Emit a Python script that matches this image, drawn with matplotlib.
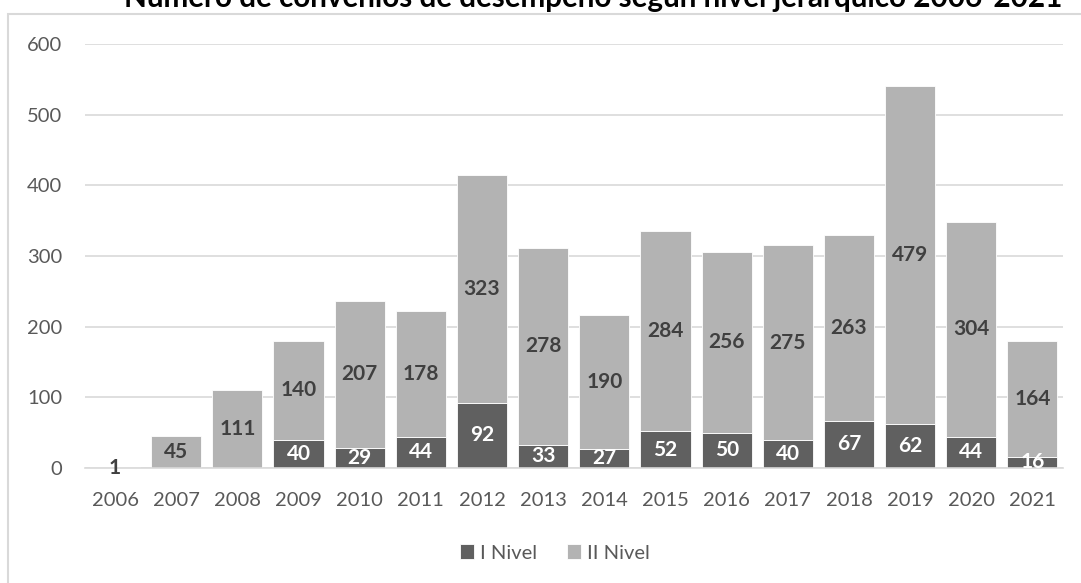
import numpy as np
import matplotlib.pyplot as plt
from matplotlib.patches import Rectangle

years = ['2006', '2007', '2008', '2009', '2010', '2011', '2012', '2013',
         '2014', '2015', '2016', '2017', '2018', '2019', '2020', '2021']
nivel_1 = [0, 0, 0, 40, 29, 44, 92, 33, 27, 52, 50, 40, 67, 62, 44, 16]
nivel_2 = [1, 45, 111, 140, 207, 178, 323, 278, 190, 284, 256, 275, 263, 479, 304, 164]

dark = '#606060'
light = '#b3b3b3'
grid_col = '#d9d9d9'
text_col = '#595959'

plt.rcParams['font.family'] = ['Lato', 'DejaVu Sans']

W, H = 1081, 583
fig = plt.figure(figsize=(W / 100, H / 100), dpi=100)
ax = fig.add_axes([84.5 / W, 1 - 468 / H, 978.5 / W, 424 / H])

# chart frame
fig.patches.append(Rectangle((8 / W, -0.1), 1.2, 1 - 14 / H + 0.1,
                             transform=fig.transFigure, fill=False,
                             edgecolor=grid_col, linewidth=1.5))

x = np.arange(len(years))
b1 = ax.bar(x, nivel_1, width=0.82, color=dark, edgecolor='white',
            linewidth=0.6, label='I Nivel', zorder=2)
b2 = ax.bar(x, nivel_2, width=0.82, bottom=nivel_1, color=light,
            edgecolor='white', linewidth=0.6, label='II Nivel', zorder=2)

ax.bar_label(b1, labels=[str(v) if v else '' for v in nivel_1],
             label_type='center', color='white', fontsize=15,
             fontweight='bold', clip_on=True)
ax.bar_label(b2, labels=[str(v) for v in nivel_2], label_type='center',
             color='#404040', fontsize=15, fontweight='bold')

ax.set_xlim(-0.5, len(years) - 0.5)
ax.set_ylim(0, 600)
ax.set_yticks(range(0, 601, 100))
ax.set_xticks(x)
ax.set_xticklabels(years)
ax.yaxis.grid(True, color=grid_col, linewidth=1.2, zorder=0)
ax.set_axisbelow(True)
for s in ['top', 'right', 'left']:
    ax.spines[s].set_visible(False)
ax.spines['bottom'].set_color(grid_col)
ax.spines['bottom'].set_linewidth(1.2)
ax.tick_params(axis='both', length=0, labelsize=14.5, colors=text_col)
ax.tick_params(axis='y', pad=16)
ax.tick_params(axis='x', pad=17.5)

fig.legend(handles=[b1, b2], loc='center', bbox_to_anchor=(555 / W, 1 - 553 / H),
           ncol=2, frameon=False, fontsize=14.5, labelcolor=text_col,
           handlelength=0.7, handleheight=0.7, handletextpad=0.3,
           columnspacing=1.5)

fig.text(593.5 / W, 1 - 7 / H, 'Número de convenios de desempeño según nivel jerárquico 2006-2021',
         ha='center', va='baseline', fontsize=21.3, fontweight='bold', color='black')

fig.savefig('out.png', dpi=100)
